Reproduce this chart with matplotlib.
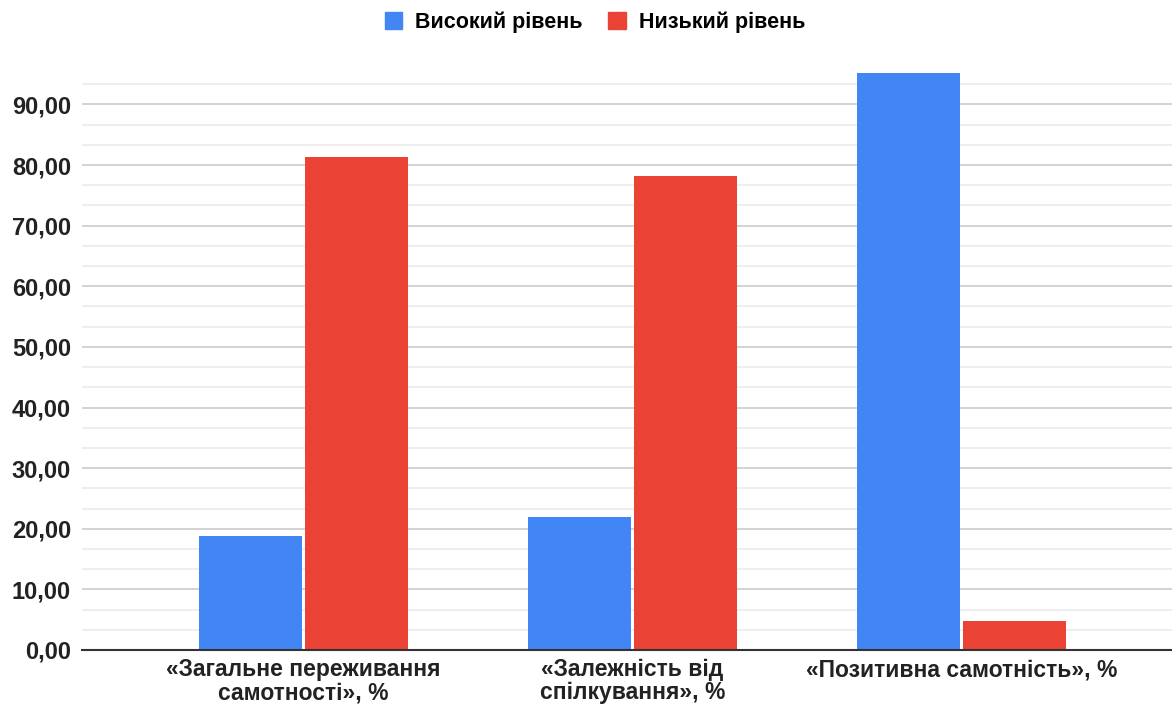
import matplotlib
matplotlib.use("Agg")
import matplotlib.pyplot as plt
from matplotlib.ticker import MultipleLocator, FuncFormatter
from matplotlib.patches import Patch
from matplotlib import font_manager
import numpy as np

categories = ["«Загальне переживання\nсамотності», %",
              "«Залежність від\nспілкування», %",
              "«Позитивна самотність», %"]
high_level = [18.75, 21.88, 95.24]
low_level = [81.25, 78.12, 4.76]
series_names = ["Високий рівень", "Низький рівень"]
colors = ["#4285f4", "#ea4335"]

plt.rcParams["font.family"] = ["Liberation Sans", "DejaVu Sans"]
plt.rcParams["font.weight"] = "bold"

names = {f.name for f in font_manager.fontManager.ttflist}
label_family = ["Liberation Sans Narrow", "Liberation Sans"] if "Liberation Sans Narrow" in names else ["Liberation Sans"]
label_size = 18 if "Liberation Sans Narrow" in names else 16.5

fig = plt.figure(figsize=(11.72, 7.06), dpi=100)
ax = fig.add_axes([82 / 1172, 1 - 650 / 706, 1 - 82 / 1172, (650 - 65) / 706])

x = np.arange(len(categories))
w = 0.313
gap = 0.005
ax.bar(x - w / 2 - gap, high_level, w, color=colors[0], zorder=3)
ax.bar(x + w / 2 + gap, low_level, w, color=colors[1], zorder=3)

ax.set_xlim(-0.673, 2.64)
ax.set_ylim(0, 96.5)
ax.yaxis.set_major_locator(MultipleLocator(10))
ax.yaxis.set_minor_locator(MultipleLocator(10 / 3))
ax.yaxis.set_major_formatter(FuncFormatter(lambda v, p: f"{v:.2f}".replace(".", ",")))
ax.grid(axis="y", which="major", color="#cccccc", linewidth=1.2, zorder=0)
ax.grid(axis="y", which="minor", color="#ebebeb", linewidth=1.2, zorder=0)

for s in ["top", "right", "left"]:
    ax.spines[s].set_visible(False)
ax.spines["bottom"].set_color("#333333")
ax.spines["bottom"].set_linewidth(1.5)
ax.spines["bottom"].set_zorder(4)

ax.tick_params(axis="y", which="both", length=0, pad=8, labelsize=17, labelcolor="#222222")
ax.tick_params(axis="x", length=0, pad=6, labelcolor="#222222")
ax.set_xticks(x)
ax.set_xticklabels(categories, fontsize=label_size, fontweight="bold", linespacing=1.0,
                   family=label_family)
for t in ax.get_yticklabels():
    t.set_fontweight("bold")

handles = [Patch(color=c, label=n) for c, n in zip(colors, series_names)]
fig.legend(handles=handles, loc="center", bbox_to_anchor=(595 / 1172, 1 - 22 / 706),
           ncol=2, frameon=False, prop={"size": 15.5, "weight": "bold"},
           handlelength=0.8, handleheight=0.8, handletextpad=0.6, columnspacing=1.2)

fig.savefig("out.png", dpi=100)
